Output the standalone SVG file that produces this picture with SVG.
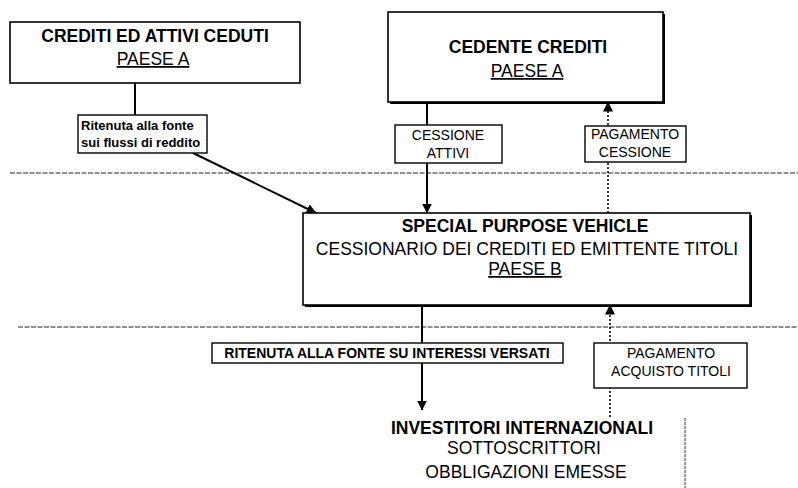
<svg xmlns="http://www.w3.org/2000/svg" width="798" height="488" viewBox="0 0 798 488">
<style>
  text { font-family: "Liberation Sans", Arial, sans-serif; fill: #000; }
  .big { font-size: 17.5px; text-anchor: middle; }
  .bigb { font-size: 17.5px; font-weight: bold; text-anchor: middle; }
  .lbl { font-size: 14px; text-anchor: middle; }
  .lblb { font-size: 14px; font-weight: bold; text-anchor: middle; }
  .box { fill: #fff; stroke: #000; stroke-width: 1.6; }
  .shadow { fill: #000; }
  .tag { fill: #fff; stroke: #000; stroke-width: 1.4; }
  .solid { stroke: #000; stroke-width: 2; fill: none; }
  .dotted { stroke: #000; stroke-width: 1.6; fill: none; stroke-dasharray: 2 2; }
  .sep { stroke: #222; stroke-width: 1; stroke-dasharray: 5 1.5; fill: none; }
</style>
<defs>
  <marker id="ah" viewBox="0 0 10 10" refX="9.5" refY="5" markerWidth="10" markerHeight="10" markerUnits="userSpaceOnUse" orient="auto">
    <path d="M0,0 L10,5 L0,10 z" fill="#000"/>
  </marker>
</defs>
<rect width="798" height="488" fill="#fff"/>

<g id="separators">
  <line class="sep" x1="10" y1="173" x2="798" y2="173"/>
  <line class="sep" x1="18" y1="327" x2="798" y2="327"/>
  <line x1="685" y1="418" x2="685" y2="488" stroke="#333" stroke-width="1" stroke-dasharray="3 1"/>
</g>

<g id="connectors">
  <line class="solid" x1="135" y1="83" x2="135" y2="115"/>
  <line class="solid" x1="193" y1="153" x2="316" y2="213" marker-end="url(#ah)"/>
  <line class="solid" x1="427" y1="102" x2="427" y2="213" marker-end="url(#ah)"/>
  <line class="dotted" x1="608" y1="213" x2="608" y2="102" marker-end="url(#ah)"/>
  <line class="solid" x1="422" y1="305" x2="422" y2="410" marker-end="url(#ah)"/>
  <line class="dotted" x1="610" y1="417" x2="610" y2="305" marker-end="url(#ah)"/>
</g>

<g id="crediti-ceduti">
  <rect class="box" x="10" y="22" width="290" height="61"/>
  <text class="bigb" x="155" y="42">CREDITI ED ATTIVI CEDUTI</text>
  <text class="big" x="153" y="65" text-decoration="underline">PAESE A</text>
</g>

<g id="cedente-crediti">
  <rect class="shadow" x="390" y="14" width="275" height="90"/>
  <rect class="box" x="388" y="12" width="275" height="90"/>
  <text class="bigb" x="528" y="53">CEDENTE CREDITI</text>
  <text class="big" x="527" y="77" text-decoration="underline">PAESE A</text>
</g>

<g id="label-ritenuta-flussi">
  <rect class="tag" x="78" y="115" width="129" height="38"/>
  <text x="81" y="130" font-size="13" font-weight="bold">Ritenuta alla fonte</text>
  <text x="81" y="147" font-size="13" font-weight="bold">sui flussi di reddito</text>
</g>

<g id="label-cessione-attivi">
  <rect class="tag" x="395" y="125" width="107" height="38"/>
  <text class="lbl" x="448" y="140">CESSIONE</text>
  <text class="lbl" x="448" y="158">ATTIVI</text>
</g>

<g id="label-pagamento-cessione">
  <rect class="tag" x="585" y="126" width="101" height="36"/>
  <text class="lbl" x="635" y="139">PAGAMENTO</text>
  <text class="lbl" x="635" y="157">CESSIONE</text>
</g>

<g id="spv">
  <rect class="shadow" x="305" y="215" width="447" height="92"/>
  <rect class="box" x="303" y="213" width="447" height="92"/>
  <text class="bigb" x="525" y="232">SPECIAL PURPOSE VEHICLE</text>
  <text class="big" x="527" y="255">CESSIONARIO DEI CREDITI ED EMITTENTE TITOLI</text>
  <text class="big" x="525" y="275" text-decoration="underline">PAESE B</text>
</g>

<g id="label-ritenuta-interessi">
  <rect class="tag" x="212" y="343" width="351" height="20"/>
  <text class="lblb" x="387" y="358">RITENUTA ALLA FONTE SU INTERESSI VERSATI</text>
</g>

<g id="label-pagamento-acquisto">
  <rect class="tag" x="594" y="343" width="153" height="45"/>
  <text class="lbl" x="671" y="358">PAGAMENTO</text>
  <text class="lbl" x="671" y="376">ACQUISTO TITOLI</text>
</g>

<g id="investitori">
  <text class="bigb" x="522" y="434">INVESTITORI INTERNAZIONALI</text>
  <text class="big" x="524" y="454">SOTTOSCRITTORI</text>
  <text class="big" x="526" y="478">OBBLIGAZIONI EMESSE</text>
</g>
</svg>
